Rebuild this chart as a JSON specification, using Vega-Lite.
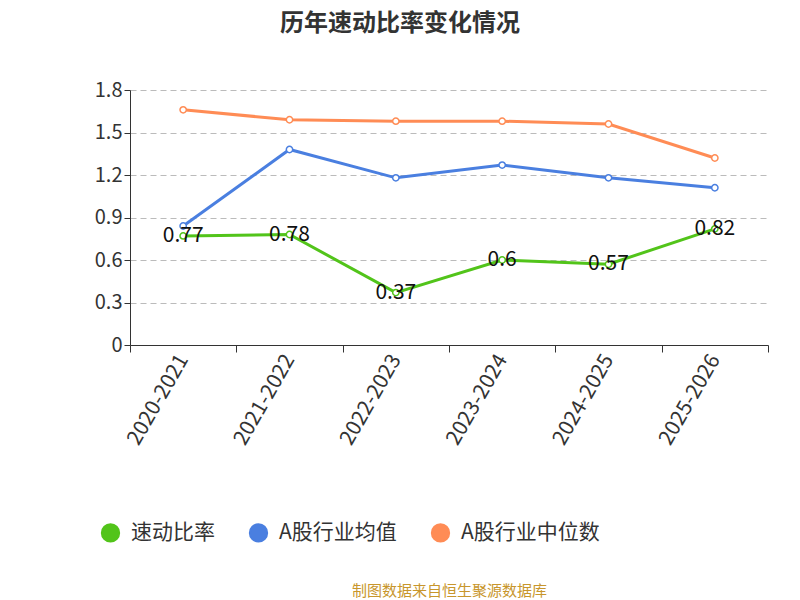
{
  "$schema": "https://vega.github.io/schema/vega-lite/v6.json",
  "width": 638, "height": 255,
  "autosize": {"type": "none"},
  "padding": {"left": 130, "top": 90, "right": 32, "bottom": 255},
  "background": "white",
  "config": {"font": "Noto Sans CJK SC", "view": {"stroke": null}},
  "title": {"text": "历年速动比率变化情况", "fontSize": 24, "fontWeight": "bold", "color": "#333333", "anchor": "middle", "dx": -49, "offset": 44},
  "data": {"values": [
    {"year": "2020-2021", "s": "速动比率", "v": 0.77},
    {"year": "2021-2022", "s": "速动比率", "v": 0.78},
    {"year": "2022-2023", "s": "速动比率", "v": 0.37},
    {"year": "2023-2024", "s": "速动比率", "v": 0.6},
    {"year": "2024-2025", "s": "速动比率", "v": 0.57},
    {"year": "2025-2026", "s": "速动比率", "v": 0.82},
    {"year": "2020-2021", "s": "A股行业均值", "v": 0.84},
    {"year": "2021-2022", "s": "A股行业均值", "v": 1.38},
    {"year": "2022-2023", "s": "A股行业均值", "v": 1.18},
    {"year": "2023-2024", "s": "A股行业均值", "v": 1.27},
    {"year": "2024-2025", "s": "A股行业均值", "v": 1.18},
    {"year": "2025-2026", "s": "A股行业均值", "v": 1.11},
    {"year": "2020-2021", "s": "A股行业中位数", "v": 1.66},
    {"year": "2021-2022", "s": "A股行业中位数", "v": 1.59},
    {"year": "2022-2023", "s": "A股行业中位数", "v": 1.58},
    {"year": "2023-2024", "s": "A股行业中位数", "v": 1.58},
    {"year": "2024-2025", "s": "A股行业中位数", "v": 1.56},
    {"year": "2025-2026", "s": "A股行业中位数", "v": 1.32}
  ]},
  "encoding": {
    "x": {"field": "year", "type": "ordinal", "scale": {"type": "band", "paddingInner": 0, "paddingOuter": 0},
      "axis": {"title": "制图数据来自恒生聚源数据库", "titleColor": "#c8962c", "titleFontSize": 15, "titleFontWeight": "normal", "titleY": 238,
        "labelAngle": -60, "labelFontSize": 21, "labelColor": "#333333", "domainColor": "#333333", "tickColor": "#333333", "tickBand": "extent", "tickSize": 7, "labelPadding": 4}},
    "y": {"field": "v", "type": "quantitative", "scale": {"domain": [0, 1.8]},
      "axis": {"title": null, "values": [0, 0.3, 0.6, 0.9, 1.2, 1.5, 1.8], "format": ".1~f", "labelFontSize": 20, "labelColor": "#333333", "domainColor": "#333333", "tickColor": "#333333", "tickSize": 6, "gridDash": [6, 4], "gridColor": "#bbbbbb"}},
    "color": {"field": "s", "type": "nominal", "sort": ["速动比率", "A股行业均值", "A股行业中位数"],
      "scale": {"domain": ["速动比率", "A股行业均值", "A股行业中位数"], "range": ["#52c41a", "#4a7fe0", "#ff8c55"]},
      "legend": {"title": null, "orient": "none", "direction": "horizontal", "legendX": -30, "legendY": 432, "labelFontSize": 21, "labelColor": "#333333", "symbolType": "circle", "symbolStrokeWidth": 2, "symbolSize": 300, "columnPadding": 30, "labelOffset": 10}}
  },
  "layer": [
    {"mark": {"type": "line", "strokeWidth": 3}},
    {"mark": {"type": "point", "filled": true, "fill": "white", "size": 40, "strokeWidth": 1.5, "opacity": 1}, "encoding": {"stroke": {"field": "s", "type": "nominal", "scale": {"domain": ["速动比率", "A股行业均值", "A股行业中位数"], "range": ["#52c41a", "#4a7fe0", "#ff8c55"]}, "legend": null}}},
    {"transform": [{"filter": "datum.s === '速动比率'"}], "mark": {"type": "text", "fontSize": 21, "color": "#111111", "dy": 0}, "encoding": {"text": {"field": "v"}, "color": {"value": "#111111"}}}
  ]
}
